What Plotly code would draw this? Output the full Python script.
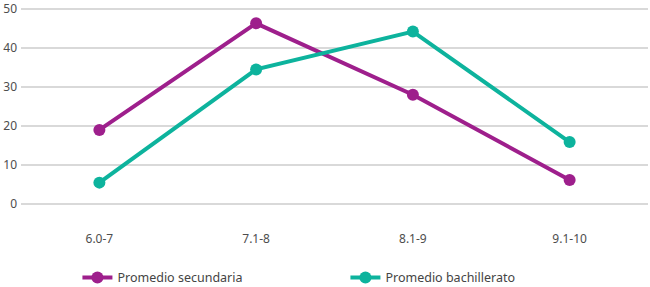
import plotly.graph_objects as go

categories = ["6.0-7", "7.1-8", "8.1-9", "9.1-10"]
secundaria = [19, 46.3, 28, 6.2]
bachillerato = [5.5, 34.5, 44.2, 15.9]
y_ticks = [0, 10, 20, 30, 40, 50]

purple = "#9E1F8C"
teal = "#0DB39D"

fig = go.Figure()
fig.add_trace(go.Scatter(x=categories, y=secundaria, name="Promedio secundaria",
                         mode="lines+markers", line=dict(color=purple, width=4),
                         marker=dict(size=12, color=purple), cliponaxis=False))
fig.add_trace(go.Scatter(x=categories, y=bachillerato, name="Promedio bachillerato",
                         mode="lines+markers", line=dict(color=teal, width=4),
                         marker=dict(size=12, color=teal), cliponaxis=False))

fig.update_layout(
    width=650, height=287,
    margin=dict(l=21, r=2, t=5, b=79, autoexpand=False),
    plot_bgcolor="white", paper_bgcolor="white",
    font=dict(family="Noto Sans", size=12, color="#4d4d4d"),
    showlegend=True,
    legend=dict(orientation="h", x=0.09, xanchor="left", y=-0.27, yanchor="top",
                entrywidth=223, entrywidthmode="pixels",
                font=dict(size=12.5, color="#444444"), traceorder="normal"),
    xaxis=dict(type="category", range=[-0.5, 3.5], showgrid=False, showline=False,
               zeroline=False, ticks="", ticklabelstandoff=22, automargin=False),
    yaxis=dict(range=[-1, 51], tickvals=y_ticks, showgrid=True, gridcolor="#d9d9d9",
               gridwidth=1.5, zeroline=False, showline=False, ticks="",
               ticklabelstandoff=3, automargin=False, ticklabeloverflow="allow"),
)

fig.write_html("out.html", config={"displayModeBar": False},
               post_script="document.body.style.margin='0';")
